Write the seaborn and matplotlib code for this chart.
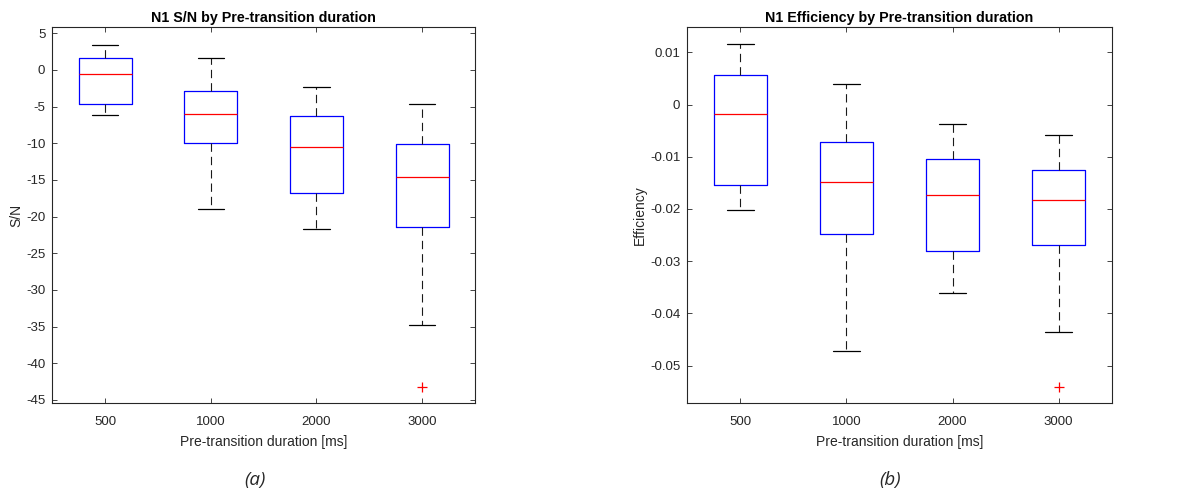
import pandas as pd
import seaborn as sns
import matplotlib.pyplot as plt

# Box summaries (per pre-transition duration)
durations = ["500", "1000", "2000", "3000"]

sn_whislo = [-6.1, -18.9, -21.7, -34.8]
sn_q1 = [-4.6, -9.95, -16.8, -21.45]
sn_med = [-0.55, -6.0, -10.45, -14.6]
sn_q3 = [1.7, -2.9, -6.3, -10.1]
sn_whishi = [3.45, 1.6, -2.3, -4.7]
sn_outliers = [[], [], [], [-43.2]]

eff_whislo = [-0.0202, -0.0471, -0.0361, -0.0435]
eff_q1 = [-0.0154, -0.0248, -0.0280, -0.0268]
eff_med = [-0.0018, -0.0149, -0.0174, -0.0182]
eff_q3 = [0.0057, -0.0072, -0.0104, -0.0126]
eff_whishi = [0.0115, 0.0040, -0.0038, -0.0058]
eff_outliers = [[], [], [], [-0.054]]


def to_long(lo, q1, med, q3, hi, outl):
    # 9 points per group so that the 25/50/75th percentiles land on q1/med/q3
    rows = []
    for i, d in enumerate(durations):
        pts = outl[i] + [lo[i]] * (2 - len(outl[i])) + [q1[i], q1[i], med[i], q3[i], q3[i], hi[i], hi[i]]
        rows += [(d, v) for v in pts]
    return pd.DataFrame(rows, columns=["duration", "value"])


sn_df = to_long(sn_whislo, sn_q1, sn_med, sn_q3, sn_whishi, sn_outliers)
eff_df = to_long(eff_whislo, eff_q1, eff_med, eff_q3, eff_whishi, eff_outliers)

sns.set_theme(style="ticks", rc={
    "xtick.direction": "in", "ytick.direction": "in",
    "xtick.top": True, "ytick.right": True,
    "axes.edgecolor": "#262626", "axes.linewidth": 0.8,
    "xtick.color": "#262626", "ytick.color": "#262626",
    "xtick.major.size": 3.5, "ytick.major.size": 3.5,
    "xtick.major.width": 0.6, "ytick.major.width": 0.6,
    "xtick.major.pad": 9, "ytick.major.pad": 5,
})
plt.rcParams["font.family"] = ["Liberation Sans", "DejaVu Sans"]

fig = plt.figure(figsize=(11.77, 4.98), dpi=100)
ax1 = fig.add_axes([0.0444, 0.1902, 0.3591, 0.755])
ax2 = fig.add_axes([0.5839, 0.1902, 0.3606, 0.755])

box_kw = dict(
    x="duration", y="value", order=durations, fill=False, width=0.5, whis=1.5,
    boxprops=dict(color="blue", linewidth=0.9),
    medianprops=dict(color="red", linewidth=0.9),
    whiskerprops=dict(color="#1a1a1a", linewidth=0.8, linestyle=(0, (7.5, 4.5))),
    capprops=dict(color="black", linewidth=0.9),
    flierprops=dict(marker="+", markeredgecolor="red", markersize=7, markeredgewidth=0.9),
    capwidths=0.25,
)

for ax, df, title, ylabel, ylim, yticks in [
    (ax1, sn_df, "N1 S/N by Pre-transition duration", "S/N", (-45.45, 5.82),
     list(range(-45, 6, 5))),
    (ax2, eff_df, "N1 Efficiency by Pre-transition duration", "Efficiency", (-0.0572, 0.01479),
     [-0.05, -0.04, -0.03, -0.02, -0.01, 0, 0.01]),
]:
    sns.boxplot(data=df, ax=ax, **box_kw)
    ax.set_xlim(-0.5, 3.5)
    ax.set_ylim(*ylim)
    ax.set_yticks(yticks)
    ax.set_yticklabels([f"{v:g}" for v in yticks])
    ax.tick_params(labelsize=9.5, labelcolor="#262626")
    ax.set_title(title, fontsize=10.3, fontweight="bold", color="black", pad=4)
    ax.set_xlabel("Pre-transition duration [ms]", fontsize=10, color="#262626", labelpad=5)
    ax.set_ylabel(ylabel, fontsize=10, color="#262626", labelpad=2)
    for s in ax.spines.values():
        s.set_visible(True)

fig.text(0.2167, 0.036, "(a)", ha="center", va="center", fontsize=13.5, style="italic", family="Open Sans")
fig.text(0.756, 0.036, "(b)", ha="center", va="center", fontsize=13.5, style="italic", family="Open Sans")

fig.savefig("out.png", dpi=100)
